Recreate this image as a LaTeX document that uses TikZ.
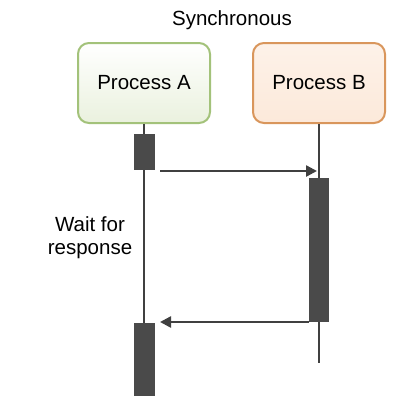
\documentclass[tikz,border=0pt]{standalone}
\usepackage{fontspec}
\setmainfont{Liberation Sans}
\usetikzlibrary{arrows.meta}
\definecolor{grnborder}{HTML}{A3C27A}
\definecolor{grnfill}{HTML}{EAF1DE}
\definecolor{orgborder}{HTML}{D9965C}
\definecolor{orgfill}{HTML}{FCE9DA}
\definecolor{bardark}{HTML}{4A4A4A}
\definecolor{linedark}{HTML}{404040}
\tikzset{
  procbox/.style={draw, line width=2pt, rounded corners=11pt, minimum width=132pt, minimum height=80pt, font=\fontsize{20.5}{23}\selectfont, inner sep=0pt},
  procA/.style={procbox, draw=grnborder, top color=white, bottom color=grnfill},
  procB/.style={procbox, draw=orgborder, top color=white!40!orgfill, bottom color=orgfill},
  actbar/.style={fill=bardark, draw=none, minimum width=21pt, inner sep=0pt},
  lifeline/.style={draw=linedark, line width=2pt},
  msg/.style={draw=linedark, line width=2.5pt, -{Triangle[length=11pt,width=11pt]}},
  lbl/.style={font=\fontsize{20.5}{23}\selectfont, align=center}
}
\begin{document}
\begin{tikzpicture}[x=1pt,y=-1pt]
\useasboundingbox (0,0) rectangle (418,418);
\node[lbl] (title) at (232,20) {Synchronous};
\node[procA] (pa) at (144,83) {Process A};
\node[procB] (pb) at (319,83) {Process B};
% activation bars
\node[actbar, minimum height=36pt] (a1) at (144,152) {};
\node[actbar, minimum height=144pt, minimum width=20pt] (b1) at (319,250) {};
\node[actbar, minimum height=73pt] (a2) at (144,359.5) {};
\coordinate (bend) at (319,363);
% lifelines
\draw[lifeline] (pa.south) -- (a1.north);
\draw[lifeline] (a1.south) -- (a2.north);
\draw[lifeline] (pb.south) -- (b1.north);
\draw[lifeline] (b1.south) -- (bend);
% messages
\coordinate (m1s) at (160,171);
\coordinate (m1e) at (317,171);
\draw[msg] (m1s) -- (m1e);
\coordinate (m2s) at (309,322);
\coordinate (m2e) at (160,322);
\draw[msg] (m2s) -- (m2e);
\node[lbl] (wait) at (90,238) {Wait for\\response};
\end{tikzpicture}
\end{document}
